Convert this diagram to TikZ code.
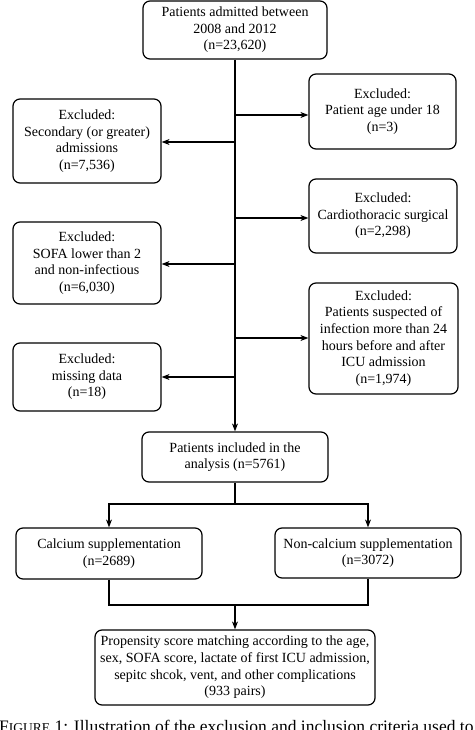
\documentclass[tikz,border=0pt]{standalone}
\usepackage{fontspec}
\setmainfont{Liberation Serif}
\usetikzlibrary{arrows.meta}
\begin{document}
\begin{tikzpicture}[x=1pt,y=-1pt,
  box/.style={draw, line width=1.2pt, rounded corners=7pt, align=center, inner sep=0pt,
    font=\fontsize{14}{16.6}\selectfont},
  conn/.style={line width=1.2pt},
  arr/.style={conn, -{Stealth[length=8pt,width=6pt]}}]
\useasboundingbox (0,0) rectangle (474,730);
\clip (0,0) rectangle (474,730);
\fill[white] (0,0) rectangle (474,730);
\node[box, minimum width=184pt, minimum height=58pt] (top) at (235,30) {Patients admitted between\\2008 and 2012\\(n=23,620)};
\node[box, minimum width=147pt, minimum height=75pt] (age) at (382.5,111.5) {Excluded:\\Patient age under 18\\(n=3)};
\node[box, minimum width=148pt, minimum height=84pt] (sec) at (87,141) {Excluded:\\Secondary (or greater)\\admissions\\(n=7,536)};
\node[box, minimum width=148pt, minimum height=74pt] (card) at (383,216) {Excluded:\\Cardiothoracic surgical\\(n=2,298)};
\node[box, minimum width=148pt, minimum height=82pt] (sofa) at (87,263) {Excluded:\\SOFA lower than 2\\and non-infectious\\(n=6,030)};
\node[box, minimum width=149pt, minimum height=111pt] (susp) at (383.5,338.5) {Excluded:\\Patients suspected of\\infection more than 24\\hours before and after\\ICU admission\\(n=1,974)};
\node[box, minimum width=148pt, minimum height=68pt] (miss) at (87,377) {Excluded:\\missing data\\(n=18)};
\node[box, minimum width=186pt, minimum height=50pt] (incl) at (235,457) {Patients included in the\\analysis (n=5761)};
\node[box, minimum width=186pt, minimum height=51pt] (calc) at (109,553.5) {Calcium supplementation\\(n=2689)};
\node[box, minimum width=186pt, minimum height=50pt] (ncalc) at (368,553) {Non-calcium supplementation\\(n=3072)};
\node[box, minimum width=280pt, minimum height=75pt] (prop) at (235,667.5) {Propensity score matching according to the age,\\sex, SOFA score, lactate of first ICU admission,\\sepitc shcok, vent, and other complications\\(933 pairs)};
% trunk
\draw[arr] (top.south) -- (incl.north);
\coordinate (t1) at (235,115);
\coordinate (t2) at (235,142);
\coordinate (t3) at (235,218);
\coordinate (t4) at (235,264);
\coordinate (t5) at (235,338);
\coordinate (t6) at (235,377);
\draw[arr] (t1) -- (t1 -| age.west);
\draw[arr] (t2) -- (t2 -| sec.east);
\draw[arr] (t3) -- (t3 -| card.west);
\draw[arr] (t4) -- (t4 -| sofa.east);
\draw[arr] (t5) -- (t5 -| susp.west);
\draw[arr] (t6) -- (t6 -| miss.east);
% split
\coordinate (s) at (235,504);
\draw[conn] (incl.south) -- (s);
\draw[arr] (s) -| (calc.north);
\draw[arr] (s) -| (ncalc.north);
% merge
\coordinate (m) at (235,605);
\draw[conn] (calc.south) |- (m);
\draw[conn] (ncalc.south) |- (m);
\draw[arr] (m) -- (prop.north);
% caption
\node[anchor=base west, inner sep=0pt, font=\fontsize{17.5}{20}\selectfont] (cap) at (-1,732) {F{\fontsize{13.5}{16}\selectfont IGURE} 1: Illustration of the exclusion and inclusion criteria used to};
\end{tikzpicture}
\end{document}
